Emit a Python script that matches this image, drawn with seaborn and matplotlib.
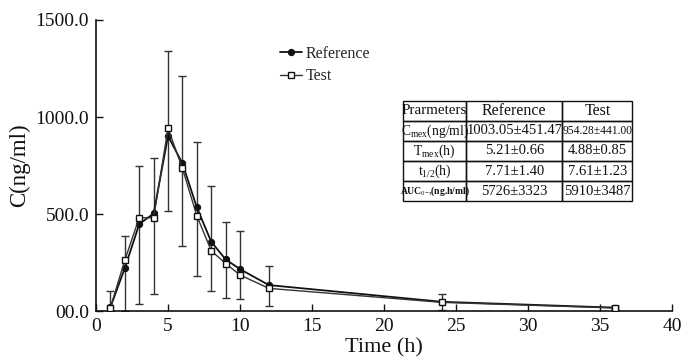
import numpy as np
import pandas as pd
import matplotlib
matplotlib.use("Agg")
import matplotlib.pyplot as plt
import seaborn as sns

# ---- data ----
time_h = [1, 2, 3, 4, 5, 6, 7, 8, 9, 10, 12, 24, 36]
reference = [20, 222, 448, 503, 902, 761, 534, 357, 266, 216, 134, 48, 18]
test = [18, 263, 481, 481, 942, 735, 491, 311, 245, 186, 117, 45, 16]
err_low = [0, 0, 35, 86, 517, 337, 182, 103, 70, 62, 26, 5, 10]
err_high = [103, 387, 747, 790, 1342, 1211, 869, 644, 460, 412, 232, 86, 25]

x_ticks = [0, 5, 10, 15, 20, 25, 30, 35, 40]
y_ticks = [0, 500, 1000, 1500]
y_tick_labels = ["00.0", "500.0", "1000.0", "1500.0"]

table_cols = ["Prarmeters", "Reference", "Test"]
table_rows = [
    ["C$_{\\mathrm{mex}}$(ng/ml)", "1003.05±451.47", "954.28±441.00"],
    ["T$_{\\mathrm{mex}}$(h)", "5.21±0.66", "4.88±0.85"],
    ["t$_{1/2}$(h)", "7.71±1.40", "7.61±1.23"],
    ["AUC$_{0\\mathrm{-}\\tau}$(ng.h/ml)", "5726±3323", "5910±3487"],
]

sns.set_theme(style="ticks")
plt.rcParams["font.family"] = ["Liberation Serif", "DejaVu Serif"]
plt.rcParams["mathtext.fontset"] = "custom"
plt.rcParams["mathtext.rm"] = "Liberation Serif"
plt.rcParams["mathtext.it"] = "Liberation Serif:italic"
plt.rcParams["mathtext.bf"] = "Liberation Serif:bold"

fig = plt.figure(figsize=(6.81, 3.63), dpi=100)
ax = fig.add_axes([0.141, 0.143, 0.846, 0.802])

df = pd.DataFrame({
    "Time": time_h * 2,
    "C": reference + test,
    "Group": ["Reference"] * len(time_h) + ["Test"] * len(time_h),
})

# error bars (reference SD)
ref = np.array(reference)
yerr = [ref - np.array(err_low), np.array(err_high) - ref]
ax.errorbar(time_h, reference, yerr=yerr, fmt="none", ecolor="#333333",
            elinewidth=1.0, capsize=3, capthick=1.0, zorder=1)

sns.lineplot(data=df[df.Group == "Reference"], x="Time", y="C", ax=ax,
             color="#111111", lw=1.3, marker="o", markersize=4.5,
             markerfacecolor="#111111", markeredgecolor="#111111",
             label="Reference", zorder=3)
sns.lineplot(data=df[df.Group == "Test"], x="Time", y="C", ax=ax,
             color="#333333", lw=1.0, marker="s", markersize=5,
             markerfacecolor="white", markeredgecolor="#111111",
             markeredgewidth=1.0, label="Test", zorder=4)

ax.set_xlim(0, 40)
ax.set_ylim(0, 1500)
ax.set_xticks(x_ticks)
ax.set_yticks(y_ticks)
ax.set_yticklabels(y_tick_labels)
ax.tick_params(axis="x", direction="in", length=5, width=1, labelsize=14, colors="#111111", pad=5)
ax.tick_params(axis="y", direction="in", length=5, width=1, labelsize=14, colors="#111111", pad=5)
for s in ["top", "right"]:
    ax.spines[s].set_visible(False)
for s in ["left", "bottom"]:
    ax.spines[s].set_color("#111111")
    ax.spines[s].set_linewidth(1.2)
ax.set_xlabel("Time (h)", fontsize=16, color="#111111", labelpad=2)
ax.set_ylabel("C(ng/ml)", fontsize=16.5, color="#111111", labelpad=4)

leg = ax.legend(loc="upper left", bbox_to_anchor=(0.30, 0.95), frameon=False,
                fontsize=11.5, handlelength=1.4, handletextpad=0.2, labelspacing=0.4,
                borderaxespad=0.3)

tbl = ax.table(cellText=table_rows, colLabels=table_cols, cellLoc="center",
               bbox=[0.533, 0.378, 0.398, 0.344], colWidths=[0.275, 0.42, 0.305])
tbl.auto_set_font_size(False)
for (r, c), cell in tbl.get_celld().items():
    cell.PAD = 0.02
    cell.set_edgecolor("#111111")
    cell.set_linewidth(1.0)
    cell.set_facecolor("none")
    txt = cell.get_text()
    txt.set_color("#111111")
    if r == 0 and c == 0:
        txt.set_fontsize(10.8)
    elif r == 0:
        txt.set_fontsize(11.5)
    elif r == 1 and c == 2:
        txt.set_fontsize(8.3)
    elif r == 4 and c == 0:
        txt.set_fontsize(6.9)
        txt.set_fontweight("bold")
    elif c == 0:
        txt.set_fontsize(9.8)
    else:
        txt.set_fontsize(10.5)

fig.savefig("out.png", dpi=100, facecolor="white")
